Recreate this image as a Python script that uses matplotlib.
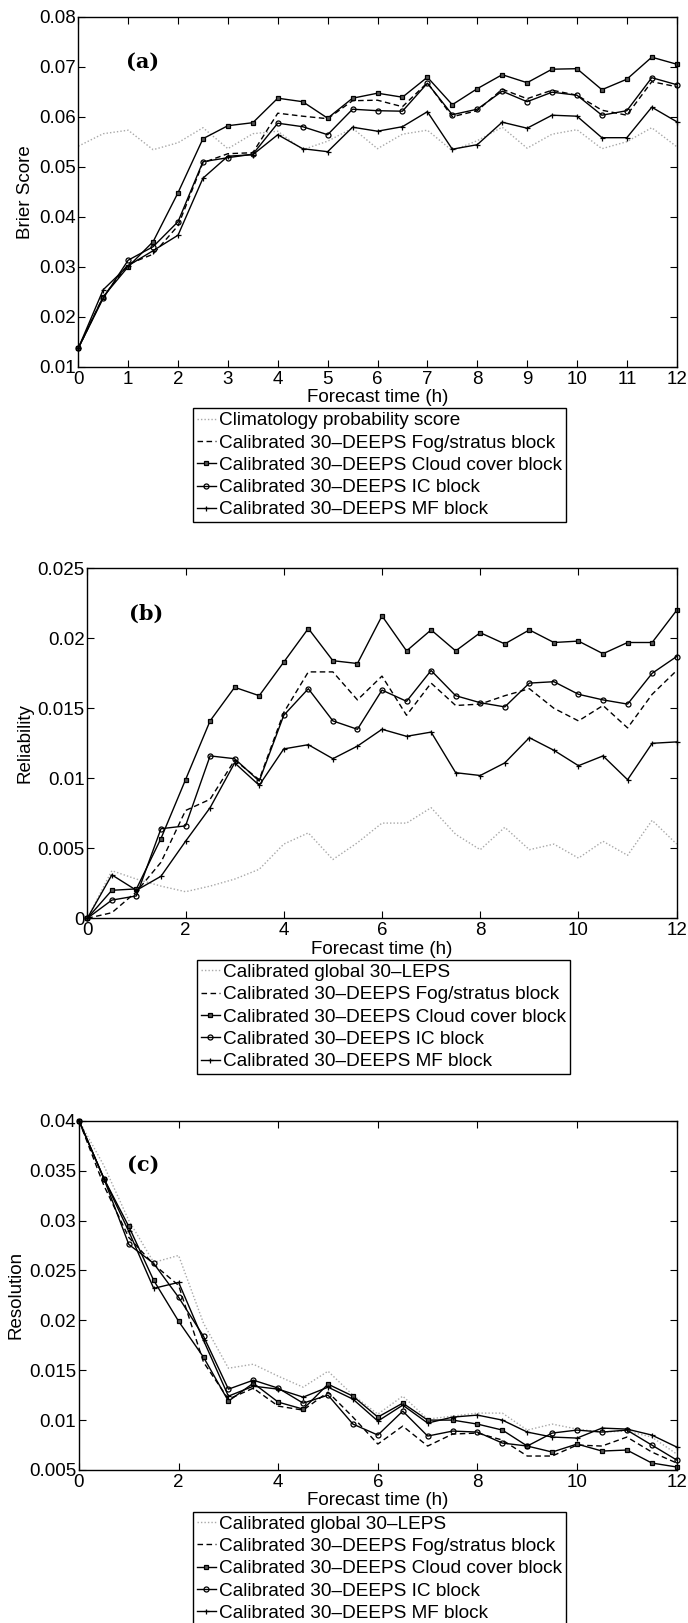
import matplotlib
matplotlib.use("Agg")
import matplotlib.pyplot as plt
from matplotlib.ticker import FixedLocator, FixedFormatter

plt.rcParams['font.family'] = ['Liberation Sans', 'DejaVu Sans']

hours = [0, 0.5, 1, 1.5, 2, 2.5, 3, 3.5, 4, 4.5, 5, 5.5, 6, 6.5, 7, 7.5, 8, 8.5,
         9, 9.5, 10, 10.5, 11, 11.5, 12]

# ---- Panel (a): Brier Score ----
a_clim = [0.0541, 0.0566, 0.0573, 0.0534, 0.0548, 0.0578, 0.0536, 0.0566, 0.0571, 0.0534,
          0.0551, 0.0577, 0.0536, 0.0565, 0.0573, 0.0532, 0.0552, 0.0579, 0.0537, 0.0565,
          0.0574, 0.0536, 0.0550, 0.0578, 0.0540]
a_fog = [0.0137, 0.0240, 0.0305, 0.0325, 0.0382, 0.0508, 0.0526, 0.0528, 0.0607, 0.0601,
         0.0596, 0.0632, 0.0633, 0.0620, 0.0668, 0.0600, 0.0612, 0.0655, 0.0636, 0.0653,
         0.0643, 0.0613, 0.0603, 0.0670, 0.0660]
a_cloud = [0.0137, 0.0240, 0.0300, 0.0350, 0.0448, 0.0556, 0.0582, 0.0588, 0.0637, 0.0630,
           0.0597, 0.0637, 0.0647, 0.0639, 0.0679, 0.0624, 0.0656, 0.0684, 0.0668, 0.0695,
           0.0696, 0.0654, 0.0675, 0.0719, 0.0705]
a_ic = [0.0137, 0.0237, 0.0313, 0.0340, 0.0390, 0.0510, 0.0518, 0.0525, 0.0587, 0.0580,
        0.0564, 0.0615, 0.0612, 0.0611, 0.0667, 0.0604, 0.0615, 0.0651, 0.0630, 0.0649,
        0.0643, 0.0603, 0.0612, 0.0678, 0.0664]
a_mf = [0.0137, 0.0254, 0.0302, 0.0332, 0.0363, 0.0477, 0.0521, 0.0524, 0.0564, 0.0536,
        0.0530, 0.0579, 0.0571, 0.0580, 0.0610, 0.0535, 0.0544, 0.0589, 0.0577, 0.0603,
        0.0601, 0.0558, 0.0558, 0.0619, 0.0590]

# ---- Panel (b): Reliability ----
b_clim = [0.0, 0.0034, 0.0028, 0.0023, 0.0019, 0.0023, 0.0028, 0.0035, 0.0053, 0.0061,
          0.0042, 0.0054, 0.0068, 0.0068, 0.0079, 0.0060, 0.0049, 0.0065, 0.0049, 0.0053,
          0.0043, 0.0055, 0.0045, 0.0070, 0.0053]
b_fog = [0.0, 0.0004, 0.0019, 0.0040, 0.0077, 0.0085, 0.0113, 0.0099, 0.0147, 0.0176,
         0.0176, 0.0156, 0.0173, 0.0145, 0.0168, 0.0152, 0.0153, 0.0159, 0.0164, 0.0150,
         0.0141, 0.0152, 0.0136, 0.0160, 0.0177]
b_cloud = [0.0, 0.0020, 0.0021, 0.0057, 0.0099, 0.0141, 0.0165, 0.0159, 0.0183, 0.0207,
           0.0184, 0.0182, 0.0216, 0.0191, 0.0206, 0.0191, 0.0204, 0.0196, 0.0206, 0.0197,
           0.0198, 0.0189, 0.0197, 0.0197, 0.0220]
b_ic = [0.0, 0.0013, 0.0016, 0.0064, 0.0066, 0.0116, 0.0114, 0.0098, 0.0145, 0.0164,
        0.0141, 0.0135, 0.0163, 0.0155, 0.0177, 0.0159, 0.0154, 0.0151, 0.0168, 0.0169,
        0.0160, 0.0156, 0.0153, 0.0175, 0.0187]
b_mf = [0.0, 0.0031, 0.0020, 0.0030, 0.0055, 0.0079, 0.0111, 0.0095, 0.0121, 0.0124,
        0.0114, 0.0123, 0.0135, 0.0130, 0.0133, 0.0104, 0.0102, 0.0111, 0.0129, 0.0120,
        0.0109, 0.0116, 0.0099, 0.0125, 0.0126]

# ---- Panel (c): Resolution ----
c_clim = [0.0400, 0.0355, 0.0300, 0.0258, 0.0265, 0.0197, 0.0152, 0.0156, 0.0144, 0.0133,
          0.0149, 0.0125, 0.0106, 0.0124, 0.0101, 0.0104, 0.0107, 0.0107, 0.0090, 0.0096,
          0.0091, 0.0088, 0.0089, 0.0083, 0.0066]
c_fog = [0.0400, 0.0335, 0.0283, 0.0256, 0.0235, 0.0158, 0.0121, 0.0132, 0.0114, 0.0110,
         0.0128, 0.0103, 0.0076, 0.0094, 0.0074, 0.0086, 0.0087, 0.0080, 0.0064, 0.0064,
         0.0075, 0.0074, 0.0083, 0.0068, 0.0057]
c_cloud = [0.0400, 0.0342, 0.0294, 0.0240, 0.0199, 0.0163, 0.0119, 0.0137, 0.0118, 0.0111,
           0.0136, 0.0124, 0.0103, 0.0117, 0.0100, 0.0100, 0.0096, 0.0090, 0.0074, 0.0068,
           0.0076, 0.0069, 0.0070, 0.0057, 0.0053]
c_ic = [0.0400, 0.0342, 0.0276, 0.0257, 0.0223, 0.0184, 0.0131, 0.0140, 0.0132, 0.0117,
        0.0125, 0.0096, 0.0085, 0.0109, 0.0084, 0.0089, 0.0088, 0.0077, 0.0074, 0.0087,
        0.0090, 0.0088, 0.0090, 0.0075, 0.0060]
c_mf = [0.0400, 0.0342, 0.0289, 0.0232, 0.0238, 0.0180, 0.0124, 0.0134, 0.0131, 0.0123,
        0.0133, 0.0121, 0.0099, 0.0115, 0.0097, 0.0103, 0.0105, 0.0100, 0.0088, 0.0083,
        0.0082, 0.0092, 0.0091, 0.0085, 0.0073]

labels_a = ["Climatology probability score",
            "Calibrated 30\u2013DEEPS Fog/stratus block",
            "Calibrated 30\u2013DEEPS Cloud cover block",
            "Calibrated 30\u2013DEEPS IC block",
            "Calibrated 30\u2013DEEPS MF block"]
labels_bc = ["Calibrated global 30\u2013LEPS"] + labels_a[1:]

a_xticks = [0, 1, 2, 3, 4, 5, 6, 7, 8, 9, 10, 11, 12]
a_yticks = [0.01, 0.02, 0.03, 0.04, 0.05, 0.06, 0.07, 0.08]
a_yticklabels = ["0.01", "0.02", "0.03", "0.04", "0.05", "0.06", "0.07", "0.08"]
bc_xticks = [0, 2, 4, 6, 8, 10, 12]
b_yticks = [0, 0.005, 0.01, 0.015, 0.02, 0.025]
b_yticklabels = ["0", "0.005", "0.01", "0.015", "0.02", "0.025"]
c_yticks = [0.005, 0.01, 0.015, 0.02, 0.025, 0.03, 0.035, 0.04]
c_yticklabels = ["0.005", "0.01", "0.015", "0.02", "0.025", "0.03", "0.035", "0.04"]

W, H = 688, 1623
fig = plt.figure(figsize=(W / 100, H / 100), dpi=100)

FS = 13.5
LFS = 13.7


def px_rect(left, top, right, bottom):
    return [left / W, 1 - bottom / H, (right - left) / W, (bottom - top) / H]


def draw_panel(rect, series, labels, ylim, yticks, yticklabels, xticks, ylabel,
               panel, leg_xy):
    ax = fig.add_axes(rect)
    clim, fog, cloud, ic, mf = series
    common = dict(clip_on=False, color='black', lw=1.0)
    l1, = ax.plot(hours, clim, color='#a8a8a8', lw=1.0, ls=(0, (1, 1.5)), clip_on=False)
    l2, = ax.plot(hours, fog, ls=(0, (4, 2.5)), **common)
    l3, = ax.plot(hours, cloud, marker='s', ms=3.2, mfc='#555555', mew=0.9, **common)
    l4, = ax.plot(hours, ic, marker='o', ms=3.6, mfc='none', mew=0.9, **common)
    l5, = ax.plot(hours, mf, marker='+', ms=3.6, mew=0.9, **common)
    ax.set_xlim(0, 12)
    ax.set_ylim(*ylim)
    ax.xaxis.set_major_locator(FixedLocator(xticks))
    ax.xaxis.set_major_formatter(FixedFormatter([str(t) for t in xticks]))
    ax.yaxis.set_major_locator(FixedLocator(yticks))
    ax.yaxis.set_major_formatter(FixedFormatter(yticklabels))
    ax.tick_params(direction='in', length=5, width=0.8, top=True, right=True,
                   labelsize=FS, pad=2)
    ax.tick_params(axis='x', pad=3)
    for s in ax.spines.values():
        s.set_linewidth(1.0)
    ax.set_ylabel(ylabel, fontsize=FS, va='center')
    ax.yaxis.set_label_coords(-(rect[0] * W - ylab_x[panel]) / (rect[2] * W), 0.5)
    ax.set_xlabel("Forecast time (h)", fontsize=FS, va='center')
    ax.xaxis.set_label_coords(0.5, -0.088)
    ax.text(*panel_xy[panel], "(%s)" % panel, transform=ax.transAxes,
            fontsize=15, fontweight='bold', family='DejaVu Serif',
            ha='center', va='center')
    leg = fig.legend([l1, l2, l3, l4, l5], labels, loc='upper left',
                     bbox_to_anchor=(leg_xy[0] / W, 1 - leg_xy[1] / H),
                     bbox_transform=fig.transFigure, borderaxespad=0,
                     fontsize=LFS, frameon=True, fancybox=False, edgecolor='black',
                     handlelength=1.05, handletextpad=0.12, borderpad=0.2,
                     labelspacing=0.26, framealpha=1)
    leg.get_frame().set_linewidth(1.0)
    return ax


ylab_x = {'a': 26, 'b': 25, 'c': 16}
panel_xy = {'a': (0.108, 0.871), 'b': (0.099, 0.871), 'c': (0.108, 0.873)}

draw_panel(px_rect(78.3, 16.7, 676.7, 366.7), (a_clim, a_fog, a_cloud, a_ic, a_mf),
           labels_a, (0.01, 0.08), a_yticks, a_yticklabels, a_xticks, "Brier Score",
           'a', (192.7, 408.3))
draw_panel(px_rect(87.3, 568.3, 676.7, 918.3), (b_clim, b_fog, b_cloud, b_ic, b_mf),
           labels_bc, (0, 0.025), b_yticks, b_yticklabels, bc_xticks, "Reliability",
           'b', (196.7, 960))
draw_panel(px_rect(79, 1120.7, 676.7, 1470), (c_clim, c_fog, c_cloud, c_ic, c_mf),
           labels_bc, (0.005, 0.04), c_yticks, c_yticklabels, bc_xticks, "Resolution",
           'c', (192.7, 1511.7))

fig.savefig("out.png", dpi=100)
